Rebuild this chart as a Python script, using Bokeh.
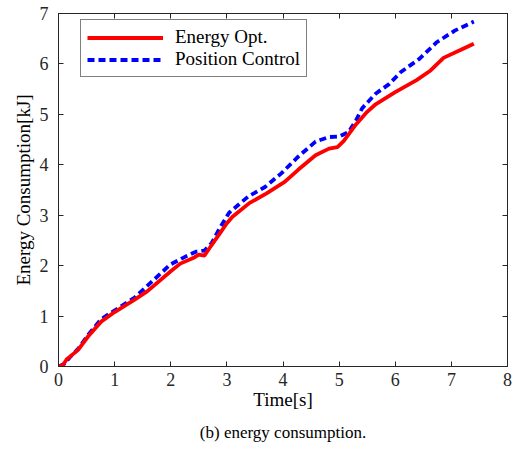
from bokeh.plotting import figure
from bokeh.models import (LinearAxis, Range1d, Legend, LegendItem, Title, FixedTicker,
                          CustomJSTickFormatter)
from bokeh.embed import file_html
from bokeh.resources import INLINE

# Energy Opt. (red solid)
t_opt = [0, 0.08, 0.15, 0.2, 0.35, 0.53, 0.76, 1.0, 1.35, 1.58, 2.0, 2.17, 2.4, 2.5, 2.6, 2.68,
         2.85, 3.0, 3.1, 3.4, 3.7, 4.03, 4.27, 4.58, 4.82, 4.97, 5.08, 5.3, 5.5, 5.65, 6.0,
         6.38, 6.63, 6.86, 7.17, 7.4]
e_opt = [0, 0.03, 0.15, 0.19, 0.33, 0.6, 0.89, 1.08, 1.32, 1.49, 1.89, 2.04, 2.15, 2.22, 2.2, 2.33,
         2.6, 2.84, 2.97, 3.24, 3.43, 3.66, 3.9, 4.19, 4.32, 4.35, 4.47, 4.8, 5.05, 5.2, 5.44,
         5.68, 5.87, 6.12, 6.28, 6.4]

# Position Control (blue dashed)
t_pos = [0, 0.1, 0.2, 0.35, 0.53, 0.76, 1.11, 1.35, 1.7, 1.99, 2.28, 2.46, 2.6, 2.73, 2.87, 3.04,
         3.38, 3.68, 3.97, 4.27, 4.58, 4.82, 5.0, 5.17, 5.3, 5.41, 5.65, 5.89, 6.1, 6.43, 6.74,
         7.06, 7.4]
e_pos = [0, 0.05, 0.18, 0.35, 0.63, 0.94, 1.19, 1.36, 1.72, 2.02, 2.19, 2.28, 2.3, 2.45, 2.74, 3.05,
         3.37, 3.56, 3.83, 4.16, 4.46, 4.55, 4.56, 4.65, 4.88, 5.12, 5.41, 5.6, 5.84, 6.1, 6.43,
         6.66, 6.84]

x_ticks = [0, 1, 2, 3, 4, 5, 6, 7, 8]
y_ticks = [0, 1, 2, 3, 4, 5, 6, 7]

FONT = "'Liberation Serif', serif"
AX = "#262626"

p = figure(width=530, height=450, output_backend="svg", toolbar_location=None,
           x_range=Range1d(0, 8), y_range=Range1d(0, 7),
           min_border_left=58, min_border_right=23, min_border_top=13, min_border_bottom=83,
           x_axis_label="Time[s]", y_axis_label="Energy Consumption[kJ]")
p.grid.visible = False
p.outline_line_color = AX
p.outline_line_width = 1
p.background_fill_color = "white"
p.border_fill_color = "white"

for ax in [p.xaxis[0], p.yaxis[0]]:
    ax.major_tick_in = 5
    ax.major_tick_out = 0
    ax.minor_tick_line_color = None
    ax.axis_line_color = AX
    ax.major_tick_line_color = AX
    ax.major_label_text_font = FONT
    ax.major_label_text_font_size = "18px"
    ax.major_label_text_color = AX
    ax.axis_label_text_font = FONT
    ax.axis_label_text_font_size = "19px"
    ax.axis_label_text_font_style = "normal"
    ax.axis_label_text_color = "#000000"
p.xaxis[0].ticker = FixedTicker(ticks=x_ticks)
p.yaxis[0].ticker = FixedTicker(ticks=y_ticks)
p.xaxis[0].major_label_standoff = 6
p.xaxis[0].axis_label_standoff = 0
p.yaxis[0].major_label_standoff = 10
p.yaxis[0].axis_label_standoff = 3

blank = CustomJSTickFormatter(code="return ''")
top = LinearAxis(ticker=FixedTicker(ticks=x_ticks), formatter=blank,
                 major_tick_in=5, major_tick_out=0, minor_tick_line_color=None,
                 axis_line_color=AX, major_tick_line_color=AX, major_label_standoff=0)
right = LinearAxis(ticker=FixedTicker(ticks=y_ticks), formatter=blank,
                   major_tick_in=5, major_tick_out=0, minor_tick_line_color=None,
                   axis_line_color=AX, major_tick_line_color=AX, major_label_standoff=0)
p.add_layout(top, "above")
p.add_layout(right, "right")

r_pos = p.line(t_pos, e_pos, line_color="#0000FF", line_width=3.8, line_dash="7 4")
r_opt = p.line(t_opt, e_opt, line_color="#FF0000", line_width=3.8)

legend = Legend(items=[LegendItem(label="Energy Opt.", renderers=[r_opt]),
                       LegendItem(label="Position Control", renderers=[r_pos])],
                location=(22, 289), label_text_font=FONT, label_text_font_size="19px",
                label_text_line_height=1.0,
                label_text_color="#000000", border_line_color="#000000", border_line_width=1,
                glyph_width=76, glyph_height=19, label_height=19, spacing=0,
                padding=6, margin=0, label_standoff=12, background_fill_alpha=1)
p.add_layout(legend, "center")

cap = Title(text="(b) energy consumption.", align="center", text_font=FONT,
            text_font_size="17px", text_font_style="normal", text_color="#000000",
            standoff=17)
p.add_layout(cap, "below")

open("out.html", "w").write(file_html(p, INLINE))
